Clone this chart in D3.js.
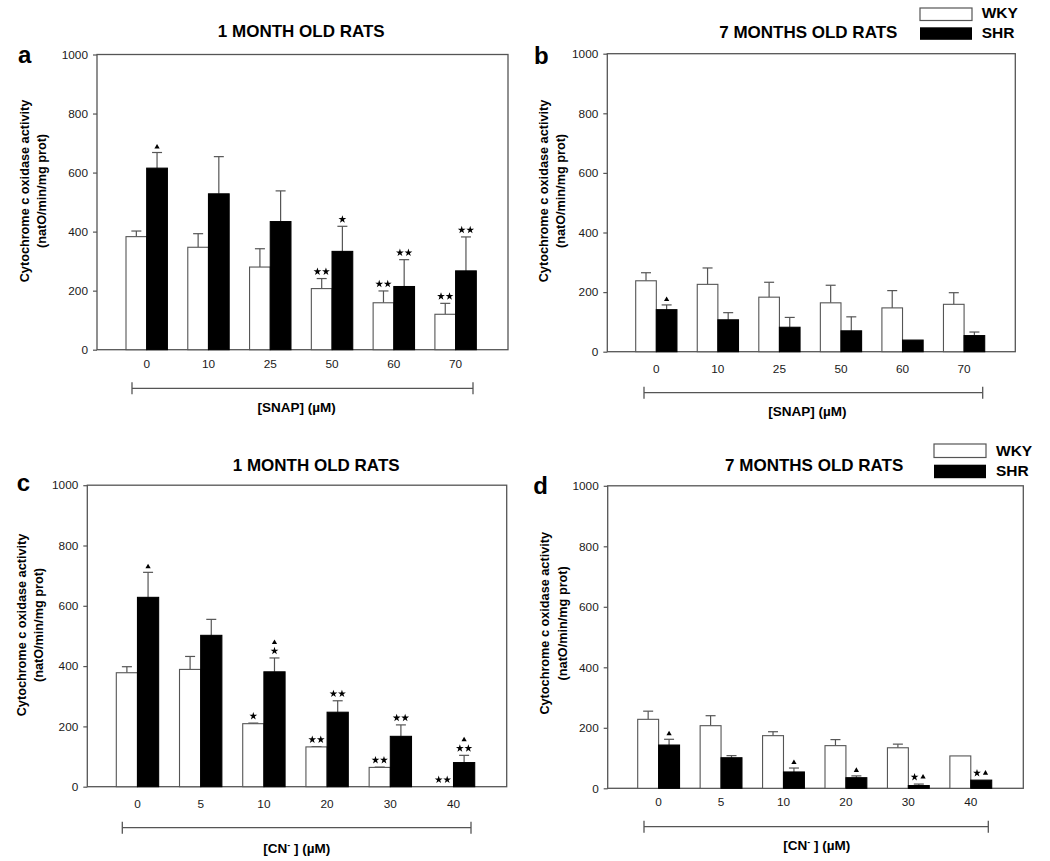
<!DOCTYPE html>
<html><head><meta charset="utf-8">
<script src="https://cdn.jsdelivr.net/npm/d3@7"></script>
<style>
body{margin:0;background:#fff}
svg{display:block}
text{font-family:"Liberation Sans",Arial,Helvetica,sans-serif}
</style>
</head><body>
<svg id="chart" width="1050" height="861"></svg>
<script>
// ---------------- DATA ----------------
const seriesNames = ["WKY", "SHR"];
const yTicks = [0, 200, 400, 600, 800, 1000];
const snapDoses = ["0", "10", "25", "50", "60", "70"];
const cnDoses = ["0", "5", "10", "20", "30", "40"];

// panel a: SNAP, 1 month
const a_wky = [383, 347, 280, 207, 159, 120];
const a_wkyErr = [19, 46, 62, 34, 40, 37];
const a_shr = [615, 528, 434, 333, 214, 267];
const a_shrErr = [53, 126, 104, 85, 91, 115];
const a_wkyMarks = ["", "", "", "**", "**", "**"];
const a_shrMarks = ["^", "", "", "*", "**", "**"];

// panel b: SNAP, 7 months
const b_wky = [238, 226, 183, 164, 147, 159];
const b_wkyErr = [27, 55, 50, 59, 58, 39];
const b_shr = [141, 107, 82, 70, 39, 54];
const b_shrErr = [16, 24, 33, 47, 0, 12];
const b_wkyMarks = ["", "", "", "", "", ""];
const b_shrMarks = ["^", "", "", "", "", ""];

// panel c: CN-, 1 month
const c_wky = [378, 389, 209, 132, 64, 0];
const c_wkyErr = [20, 43, 2, 1, 1, 0];
const c_shr = [628, 502, 381, 247, 167, 80];
const c_shrErr = [83, 53, 46, 38, 38, 24];
const c_wkyMarks = ["", "", "*", "**", "**", "**"];
const c_shrMarks = ["^", "", "*/^", "**", "**", "**/^"];

// panel d: CN-, 7 months
const d_wky = [228, 207, 174, 141, 134, 107];
const d_wkyErr = [27, 33, 13, 20, 12, 0];
const d_shr = [143, 101, 54, 35, 9, 27];
const d_shrErr = [19, 7, 13, 6, 5, 0];
const d_wkyMarks = ["", "", "", "", "", ""];
const d_shrMarks = ["^", "", "^", "^", "*^", "*^"];

const yTitle1 = "Cytochrome c oxidase activity";
const yTitle2 = "(natO/min/mg prot)";

// ---------------- LAYOUT ----------------
const frameCol = "#555";
const panels = [
  {letter:"a", title:"1 MONTH OLD RATS", cats:snapDoses, vals:[a_wky,a_shr], errs:[a_wkyErr,a_shrErr], marks:[a_wkyMarks,a_shrMarks], xl:"snap", legend:false,
   L:{x0:97,x1:508,yT:54.5,yB:349.7,bL:126,bR:476.3,tickPad:9.5,
      lx:18,ly:62.5,tx:301.3,ty:36.5,yl1:25,yl2:42.3,ylc:191,
      brY:388.3,brL:132,brR:473,xlx:296.7,xly:412}},
  {letter:"b", title:"7 MONTHS OLD RATS", cats:snapDoses, vals:[b_wky,b_shr], errs:[b_wkyErr,b_shrErr], marks:[b_wkyMarks,b_shrMarks], xl:"snap", legend:true,
   L:{x0:607.3,x1:1015.3,yT:53.7,yB:351.7,bL:635.7,bR:984.7,tickPad:13,
      lx:534,ly:64.3,tx:808.3,ty:38.3,yl1:544,yl2:561,ylc:191,
      brY:392.7,brL:644,brR:982.7,xlx:807.3,xly:415.5,
      lgX:920,lgW:52,lgY1:8,lgY2:27.3,lgH:12.5,lgTx:981.7,lgT1:18.3,lgT2:38.3}},
  {letter:"c", title:"1 MONTH OLD RATS", cats:cnDoses, vals:[c_wky,c_shr], errs:[c_wkyErr,c_shrErr], marks:[c_wkyMarks,c_shrMarks], xl:"cn", legend:false,
   L:{x0:87.3,x1:506.7,yT:485.2,yB:786.7,bL:116.3,bR:474.7,tickPad:12.5,
      lx:16.7,ly:490.5,tx:316.2,ty:470.7,yl1:22,yl2:38.5,ylc:625,
      brY:827.7,brL:122.3,brR:471,xlx:296.7,xly:853}},
  {letter:"d", title:"7 MONTHS OLD RATS", cats:cnDoses, vals:[d_wky,d_shr], errs:[d_wkyErr,d_shrErr], marks:[d_wkyMarks,d_shrMarks], xl:"cn", legend:true,
   L:{x0:607.7,x1:1023.3,yT:485.8,yB:788.3,bL:637.7,bR:991.7,tickPad:9.5,
      lx:533.3,ly:494,tx:814.2,ty:470.7,yl1:545,yl2:562.7,ylc:623.3,
      brY:826.7,brL:644,brR:988.3,xlx:816.7,xly:850,
      lgX:934,lgW:52,lgY1:444,lgY2:464.7,lgH:13.5,lgTx:996,lgT1:456,lgT2:475.7}}
];

const svg = d3.select("#chart");
const starPath = d3.symbol(d3.symbolStar, 19)();
const triPath = d3.symbol(d3.symbolTriangle, 12)();

function drawPanel(p){
  const L = p.L;
  const g = svg.append("g");
  const y = d3.scaleLinear().domain([0, 1000]).range([L.yB, L.yT]);
  const x = d3.scaleBand().domain(p.cats).range([L.bL, L.bR]).paddingInner(0.33).paddingOuter(0);
  const xs = d3.scaleBand().domain(seriesNames).range([0, x.bandwidth()]);

  // frame
  g.append("rect").attr("x", L.x0).attr("y", L.yT)
    .attr("width", L.x1 - L.x0).attr("height", L.yB - L.yT)
    .attr("fill", "none").attr("stroke", frameCol).attr("stroke-width", 1.3);

  // y axis
  const ya = g.append("g").attr("transform", `translate(${L.x0},0)`)
    .call(d3.axisLeft(y).tickValues(yTicks).tickSize(4).tickPadding(5).tickFormat(d3.format("d")));
  ya.select(".domain").remove();
  ya.selectAll(".tick line").attr("stroke", frameCol).attr("stroke-width", 1.2);
  ya.selectAll("text").style("font-size", "11.8px").attr("fill", "#1a1a1a")
    .style("font-family", "'Liberation Sans',Arial,sans-serif");

  // x axis (labels only)
  const xa = g.append("g").attr("transform", `translate(0,${L.yB})`)
    .call(d3.axisBottom(x).tickSize(0).tickPadding(L.tickPad));
  xa.select(".domain").remove();
  xa.selectAll("text").style("font-size", "11.8px").attr("fill", "#1a1a1a")
    .style("font-family", "'Liberation Sans',Arial,sans-serif");

  // bars and error bars
  seriesNames.forEach((s, si) => {
    const vals = p.vals[si], errs = p.errs[si], marks = p.marks[si];
    const data = p.cats.map((c, i) => ({c, v: vals[i], e: errs[i], m: marks[i]}));
    const bw = xs.bandwidth();
    const cx = d => x(d.c) + xs(s) + bw / 2;

    // error bars
    const eg = g.append("g").attr("stroke", frameCol).attr("stroke-width", 1.2);
    data.filter(d => d.e > 0).forEach(d => {
      eg.append("line").attr("x1", cx(d)).attr("x2", cx(d)).attr("y1", y(d.v)).attr("y2", y(d.v + d.e));
      eg.append("line").attr("x1", cx(d) - 5).attr("x2", cx(d) + 5).attr("y1", y(d.v + d.e)).attr("y2", y(d.v + d.e));
    });

    g.append("g").selectAll("rect").data(data).join("rect")
      .attr("x", d => x(d.c) + xs(s))
      .attr("y", d => y(d.v))
      .attr("width", bw)
      .attr("height", d => y(0) - y(d.v))
      .attr("fill", si === 0 ? "#fff" : "#000")
      .attr("stroke", si === 0 ? frameCol : "#000")
      .attr("stroke-width", 1.1);

    // significance marks
    data.forEach(d => {
      if (!d.m) return;
      const rows = d.m.split("/");
      const top = y(d.v + d.e);
      let cy = null;
      rows.forEach((row, k) => {
        if (k === 0) cy = (row === "^") ? top - 5.5 : top - 7;
        else cy = cy - 8.5;
        const chars = row.split("");
        const sp = 8.5;
        chars.forEach((ch, j) => {
          const px = cx(d) + (j - (chars.length - 1) / 2) * sp;
          g.append("path").attr("d", ch === "*" ? starPath : triPath)
            .attr("transform", `translate(${px},${cy})`).attr("fill", "#000");
        });
      });
    });
  });

  // panel letter
  g.append("text").attr("x", L.lx).attr("y", L.ly).text(p.letter)
    .style("font-size", "24px").style("font-weight", "bold").attr("fill", "#000");
  // title
  g.append("text").attr("x", L.tx).attr("y", L.ty).attr("text-anchor", "middle").text(p.title)
    .style("font-size", "17px").style("font-weight", "bold").attr("fill", "#000");

  // y title
  [[yTitle1, L.yl1], [yTitle2, L.yl2]].forEach(([t, xx]) => {
    g.append("text").attr("transform", `translate(${xx},${L.ylc}) rotate(-90)`)
      .attr("text-anchor", "middle").attr("dominant-baseline", "central").text(t)
      .style("font-size", "12.7px").style("font-weight", "bold").attr("fill", "#000");
  });

  // bracket
  const bg = g.append("g").attr("stroke", frameCol).attr("stroke-width", 1.3);
  bg.append("line").attr("x1", L.brL).attr("x2", L.brR).attr("y1", L.brY).attr("y2", L.brY);
  bg.append("line").attr("x1", L.brL).attr("x2", L.brL).attr("y1", L.brY - 6).attr("y2", L.brY + 6);
  bg.append("line").attr("x1", L.brR).attr("x2", L.brR).attr("y1", L.brY - 6).attr("y2", L.brY + 6);

  // x title
  const xt = g.append("text").attr("x", L.xlx).attr("y", L.xly).attr("text-anchor", "middle")
    .style("font-size", "13.5px").style("font-weight", "bold").attr("fill", "#000");
  if (p.xl === "snap") {
    xt.text("[SNAP] (µM)");
  } else {
    xt.append("tspan").text("[CN");
    xt.append("tspan").attr("dy", "-5").style("font-size", "9px").text("-");
    xt.append("tspan").attr("dy", "5").text(" ] (µM)");
  }

  // legend
  if (p.legend) {
    const lg = g.append("g");
    lg.append("rect").attr("x", L.lgX).attr("y", L.lgY1).attr("width", L.lgW).attr("height", L.lgH)
      .attr("fill", "#fff").attr("stroke", frameCol).attr("stroke-width", 1.2);
    lg.append("rect").attr("x", L.lgX).attr("y", L.lgY2).attr("width", L.lgW).attr("height", L.lgH)
      .attr("fill", "#000");
    lg.append("text").attr("x", L.lgTx).attr("y", L.lgT1).text(seriesNames[0])
      .style("font-size", "15.5px").style("font-weight", "bold");
    lg.append("text").attr("x", L.lgTx).attr("y", L.lgT2).text(seriesNames[1])
      .style("font-size", "15.5px").style("font-weight", "bold");
  }
}

panels.forEach(drawPanel);
</script>
</body></html>
